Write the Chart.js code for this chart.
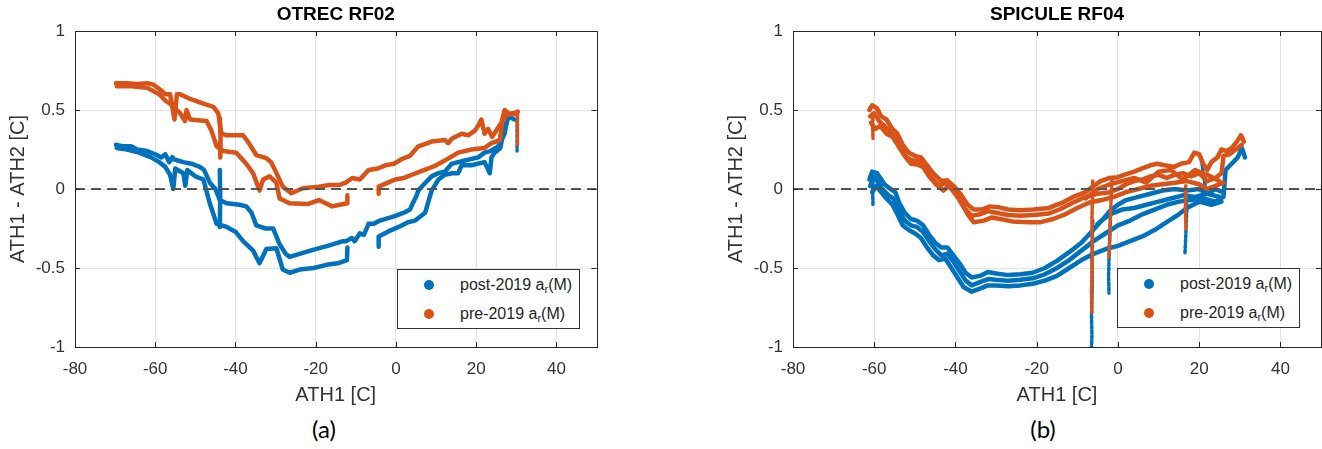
<!DOCTYPE html>
<html>
<head>
<meta charset="utf-8">
<script src="https://cdn.jsdelivr.net/npm/chart.js@4.4.1/dist/chart.umd.min.js"></script>
<style>
  body { margin: 0; background: #fff; }
  #wrap { position: relative; width: 1322px; height: 449px; overflow: hidden; font-family: "Liberation Sans", Arial, sans-serif; }
  .panel { position: absolute; top: 0; height: 410px; }
  .legend { position: absolute; width: 181px; height: 58px; border: 1px solid #333; background: #fff; color: #262626; font-size: 16px; }
  .legend .row { position: absolute; left: 0; height: 20px; line-height: 20px; }
  .legend .dot { position: absolute; left: 26px; top: 5px; width: 10px; height: 10px; border-radius: 50%; }
  .legend .txt { position: absolute; left: 62px; top: 0; white-space: nowrap; }
  .legend sub { font-size: 11px; vertical-align: -3px; line-height: 0; }
  .cap { position: absolute; top: 414px; font-family: Lato, "Open Sans", sans-serif; font-size: 24px; color: #000; transform: translateX(-50%); }
</style>
</head>
<body>
<div id="wrap">
  <div class="panel" style="left:0;width:600px"><canvas id="otrec"></canvas></div>
  <div class="panel" style="left:718px;width:604px"><canvas id="spicule"></canvas></div>

  <div class="legend" style="left:397px;top:269px">
    <div class="row" style="top:5px"><span class="dot" style="background:#0072BD"></span><span class="txt">post-2019 a<sub>r</sub>(M)</span></div>
    <div class="row" style="top:34px"><span class="dot" style="background:#D95319"></span><span class="txt">pre-2019 a<sub>r</sub>(M)</span></div>
  </div>
  <div class="legend" style="left:1117px;top:268px">
    <div class="row" style="top:5px"><span class="dot" style="background:#0072BD"></span><span class="txt">post-2019 a<sub>r</sub>(M)</span></div>
    <div class="row" style="top:34px"><span class="dot" style="background:#D95319"></span><span class="txt">pre-2019 a<sub>r</sub>(M)</span></div>
  </div>

  <div class="cap" style="left:324px">(a)</div>
  <div class="cap" style="left:1043px">(b)</div>
</div>

<script>
// axis ticks
var xTicks = [-80, -60, -40, -20, 0, 20, 40];
var yTicks = [-1, -0.5, 0, 0.5, 1];

var postColor = '#0072BD';
var preColor = '#D95319';

// ---- OTREC RF02 (ATH1, ATH1-ATH2) ----
var otrecPostUpper = [[-69.8,0.28],[-68,0.27],[-66,0.27],[-64.5,0.25],[-62,0.24],[-60,0.22],[-58.5,0.2],[-57.5,0.22],[-56.5,0.17],[-55.8,0.2],[-55.6,0.19],[-53,0.17],[-51,0.16],[-48.9,0.14],[-47.8,0.12],[-46.4,0.04],[-45,0.0],[-43.9,-0.07],[-42.2,-0.09],[-39,-0.1],[-37.3,-0.11],[-36,-0.15],[-34.8,-0.23],[-32.5,-0.25],[-30.6,-0.25],[-29.8,-0.3],[-29,-0.35],[-27.5,-0.41],[-26.5,-0.43],[-24,-0.41],[-20.7,-0.385],[-17,-0.36],[-13.2,-0.33],[-12.4,-0.33],[-11,-0.31],[-10.3,-0.33],[-9,-0.28],[-8,-0.29],[-6.8,-0.22],[-5.5,-0.22],[-4,-0.2],[-0.7,-0.175],[2,-0.15],[3.5,-0.13],[4.2,-0.09],[5,-0.05],[5.6,-0.01],[7,0.03],[8.9,0.08],[10.5,0.1],[12.2,0.11],[13.9,0.16],[15.5,0.17],[17.2,0.18],[20.5,0.2],[22.1,0.23],[23.5,0.24],[25.5,0.27],[27.1,0.35],[27.9,0.46],[29.6,0.44]];
var otrecPostLower = [[-69.6,0.26],[-67,0.25],[-64,0.23],[-61,0.2],[-59,0.17],[-57.5,0.14],[-56.3,0.09],[-55.5,0.0],[-55,0.13],[-53,0.1],[-52.5,0.02],[-52,0.12],[-50,0.08],[-48,0.06],[-46.4,-0.09],[-44.7,-0.22],[-42.2,-0.24],[-40,-0.27],[-38.1,-0.33],[-35.6,-0.39],[-34,-0.47],[-32.3,-0.38],[-29.8,-0.375],[-28.2,-0.51],[-26.5,-0.53],[-24,-0.51],[-20.5,-0.5],[-17.3,-0.48],[-14.5,-0.47],[-12.2,-0.45],[-12.1,-0.37]];
var otrecPostLower2 = [[-4.3,-0.365],[-4.3,-0.3],[-2,-0.27],[0.7,-0.24],[3,-0.21],[4.8,-0.2],[7.3,-0.15],[8.2,-0.07],[8.9,-0.01],[10.6,0.06],[12.2,0.09],[14,0.1],[15.5,0.1],[16.4,0.15],[18.8,0.15],[22.1,0.17],[23.4,0.1],[23.8,0.2],[24.6,0.23],[26,0.26],[27,0.38],[28,0.45]];
var otrecPostSpike = [[-43.9,0.12],[-43.8,-0.05],[-43.9,-0.24]];
var otrecPostTail = [[30.2,0.44],[30.2,0.24]];

var otrecPreUpper = [[-69.8,0.67],[-67,0.67],[-64.5,0.665],[-62,0.67],[-60.4,0.66],[-58.8,0.63],[-57.5,0.6],[-56.3,0.6],[-55.2,0.44],[-54.6,0.6],[-53.8,0.6],[-51.3,0.57],[-48,0.54],[-45.5,0.52],[-44.3,0.48],[-43.5,0.35],[-42.2,0.34],[-38.1,0.34],[-36.9,0.3],[-34.8,0.215],[-32.3,0.195],[-31.1,0.17],[-29.4,0.08],[-28.2,0.015],[-26.1,-0.027],[-23.2,0.005],[-19.2,0.015],[-16.6,0.025],[-14.2,0.025],[-12.5,0.04],[-10.9,0.07],[-9,0.06],[-6.8,0.12],[-4.5,0.13],[-2.6,0.15],[-0.5,0.16],[1.5,0.19],[3.5,0.21],[5.6,0.27],[8.9,0.3],[12.2,0.31],[13,0.29],[14,0.32],[16.4,0.35],[18,0.34],[19.7,0.37],[20.5,0.4],[21.3,0.44],[22.1,0.35],[23,0.38],[24,0.33],[25.5,0.39],[26.3,0.42],[27.1,0.5],[28.5,0.47],[30.4,0.49]];
var otrecPreLower = [[-69.6,0.65],[-66,0.65],[-62,0.64],[-59,0.6],[-57.5,0.56],[-56.3,0.54],[-53.8,0.48],[-52.6,0.43],[-52.2,0.5],[-51.3,0.44],[-47.2,0.43],[-46,0.37],[-44.7,0.27],[-43,0.24],[-39.8,0.23],[-37.3,0.16],[-35.6,0.1],[-34,-0.01],[-33.1,0.06],[-31.5,0.08],[-29.8,0.04],[-29,-0.06],[-26.5,-0.09],[-22,-0.095],[-19.2,-0.07],[-15.9,-0.11],[-14,-0.1],[-12.1,-0.09],[-12.1,-0.04]];
var otrecPreLower2 = [[-4.3,-0.03],[-4.3,0.015],[-2,0.04],[-0.2,0.06],[2,0.07],[4,0.09],[6,0.11],[8.1,0.13],[10,0.15],[12.2,0.18],[15.5,0.23],[18.8,0.25],[22.1,0.26],[23.8,0.29],[25.9,0.31],[26.5,0.42],[27.5,0.47],[29,0.48],[30.2,0.47]];
var otrecPreSpike = [[-43.9,0.45],[-43.7,0.3],[-43.8,0.2]];
var otrecPreTail = [[30.3,0.48],[30.3,0.28]];

// ---- SPICULE RF04 ----
var spiculePostA = [[-61.2,0.06],[-60.5,0.11],[-59.3,0.1],[-58.5,0.07],[-57.5,0.03],[-56,0.0],[-54.8,-0.02],[-53.8,-0.09],[-52.5,-0.15],[-51,-0.19],[-49.5,-0.2],[-48,-0.23],[-46.5,-0.29],[-45,-0.34],[-43.5,-0.37],[-42,-0.37],[-40.5,-0.42],[-39,-0.47],[-37.5,-0.53],[-36,-0.56],[-34,-0.55],[-32,-0.525],[-30,-0.535],[-27,-0.545],[-24,-0.54],[-21,-0.53],[-18,-0.5],[-15,-0.455],[-12,-0.4],[-9,-0.34],[-6.5,-0.27],[-4,-0.2],[-2,-0.14],[0,-0.1],[2,-0.07],[5,-0.05],[8,-0.03],[11,-0.01],[14,0.0],[17,-0.01],[20,0.0],[22,-0.03],[24,0.0],[25.8,-0.02]];
var spiculePostB = [[-61,0.02],[-60,0.08],[-59,0.04],[-58,0.0],[-56.5,-0.04],[-55.3,-0.06],[-54,-0.13],[-52.5,-0.2],[-51,-0.23],[-49.5,-0.24],[-48,-0.27],[-46.5,-0.33],[-45,-0.38],[-43.5,-0.42],[-42,-0.41],[-40.5,-0.46],[-39,-0.52],[-37.5,-0.58],[-36,-0.61],[-34,-0.59],[-32,-0.57],[-30,-0.575],[-27,-0.58],[-24,-0.575],[-21,-0.565],[-18,-0.54],[-15,-0.5],[-12,-0.45],[-9,-0.39],[-6,-0.33],[-3,-0.28],[0,-0.23],[3,-0.2],[6,-0.16],[9,-0.13],[12,-0.1],[15,-0.08],[18,-0.07],[21,-0.06],[24,-0.08],[26,-0.05],[26.5,0.12],[28,0.16],[29.5,0.2],[30.5,0.26],[31.3,0.2]];
var spiculePostC = [[-60.5,-0.02],[-59.5,0.02],[-58.3,-0.02],[-57,-0.06],[-55.5,-0.1],[-54.3,-0.16],[-53,-0.23],[-51.5,-0.26],[-50,-0.28],[-48.5,-0.31],[-47,-0.37],[-45.5,-0.42],[-44,-0.45],[-42.5,-0.44],[-41,-0.5],[-39.5,-0.56],[-38,-0.62],[-36,-0.65],[-34,-0.63],[-32,-0.61],[-30,-0.61],[-27,-0.615],[-24,-0.61],[-21,-0.6],[-18,-0.58],[-15,-0.55],[-12,-0.5],[-9,-0.45],[-6,-0.41],[-3,-0.38],[0,-0.36],[3,-0.33],[6,-0.3],[9,-0.26],[12,-0.21],[15,-0.16],[17,-0.12],[20,-0.08],[23,-0.1],[25.5,-0.08]];
var spiculePostD = [[-5,-0.22],[-2,-0.16],[1,-0.13],[4,-0.12],[7,-0.1],[10,-0.08],[13,-0.06],[16,-0.04],[19,-0.05],[22,-0.03],[25,-0.05]];
var spiculePostSpikes = [
  [[-60.3,0.08],[-60.4,-0.02],[-60.3,-0.1]],
  [[-6.2,-0.2],[-6.4,-0.45],[-6.3,-0.6],[-6.5,-0.8],[-6.4,-0.92],[-6.5,-1.0]],
  [[-1.8,-0.15],[-2.1,-0.35],[-2.3,-0.55],[-2.2,-0.66]],
  [[17,-0.1],[16.7,-0.3],[16.5,-0.41]],
  [[20.5,0.2],[21,0.1],[21.5,0.02]]
];

var spiculePreA = [[-61.2,0.5],[-60.5,0.53],[-59.3,0.51],[-58.3,0.46],[-57,0.44],[-55.5,0.38],[-54.3,0.35],[-53,0.28],[-51.5,0.23],[-50,0.21],[-48.5,0.2],[-47,0.15],[-45.5,0.1],[-43.5,0.05],[-42,0.055],[-40.5,0.02],[-38.8,-0.03],[-37,-0.1],[-35.5,-0.13],[-33.5,-0.13],[-31.5,-0.11],[-29.5,-0.115],[-27,-0.13],[-24,-0.135],[-20.7,-0.13],[-17,-0.12],[-14,-0.09],[-11,-0.05],[-8,-0.02],[-6.5,0.01],[-4.3,0.05],[-2,0.07],[0,0.075],[1.5,0.09],[4,0.11],[6,0.13],[8,0.15],[9.7,0.16],[11.5,0.15],[13.8,0.14],[15.5,0.16],[17.5,0.17],[18.8,0.23],[20,0.22],[21,0.16],[22,0.12],[23,0.17],[24.5,0.2],[25.5,0.25],[26.8,0.24],[28,0.26],[29.3,0.3],[30.3,0.34],[31,0.3]];
var spiculePreB = [[-61,0.46],[-60,0.48],[-58.8,0.43],[-57.5,0.4],[-56,0.36],[-54.8,0.32],[-53.5,0.26],[-52,0.2],[-50.5,0.18],[-49,0.18],[-47.5,0.13],[-45.8,0.07],[-44,0.02],[-42.5,0.04],[-41,0.0],[-39.5,-0.05],[-37.8,-0.12],[-36,-0.17],[-34,-0.16],[-32,-0.14],[-30,-0.15],[-27,-0.165],[-24,-0.17],[-20.7,-0.165],[-17,-0.155],[-14,-0.125],[-11,-0.085],[-8,-0.05],[-5,-0.03],[-2,-0.02],[0,0.0],[2,0.03],[4,0.05],[6,0.06],[8,0.08],[10,0.09],[12,0.07],[14,0.09],[16,0.1],[18,0.08],[20,0.1],[22,0.05],[24,0.07],[25.5,0.1],[26,0.21],[27.5,0.22],[29,0.25],[30.5,0.28]];
var spiculePreC = [[-60.8,0.42],[-59.8,0.38],[-58.5,0.4],[-57,0.35],[-55.5,0.33],[-54,0.27],[-52.5,0.21],[-51,0.16],[-49.5,0.155],[-48,0.14],[-46.5,0.08],[-44.8,0.03],[-43,-0.01],[-41.5,0.02],[-40,-0.02],[-38.5,-0.09],[-37,-0.16],[-35.5,-0.21],[-33,-0.2],[-31,-0.18],[-29,-0.19],[-26,-0.205],[-22,-0.21],[-19,-0.21],[-16,-0.19],[-13,-0.16],[-10,-0.12],[-7,-0.085],[-4,-0.07],[-1,-0.05],[2,-0.02],[5,0.0],[8,0.02],[11,0.03],[14,0.04],[17,0.05],[20,0.03],[22,0.0],[24,0.02],[26,0.04]];
var spiculePreD = [[-8,-0.06],[-5,0.0],[-2,0.03],[1,0.05],[4,0.07],[7,0.04],[10,0.11],[13,0.12],[16,0.06],[19,0.12],[22,0.09],[25,0.05]];
var spiculePreSpikes = [
  [[-60.3,0.48],[-60.4,0.4],[-60.3,0.32]],
  [[-6.2,0.05],[-6.4,-0.2],[-6.3,-0.45],[-6.5,-0.65],[-6.4,-0.78]],
  [[-1.5,0.06],[-1.8,-0.15],[-2,-0.32],[-2.2,-0.43]],
  [[16.7,0.02],[16.6,-0.12],[16.8,-0.26]]
];

var zeroLine = [[-80, 0], [50, 0]];

function trace(pairs, color, order, dashed) {
  return {
    data: pairs.map(function (p) { return {x: p[0], y: p[1]}; }),
    borderColor: color,
    backgroundColor: color,
    borderWidth: dashed ? 3.5 : 4.5,
    borderDash: dashed ? [3, 2] : [],
    borderCapStyle: 'round',
    borderJoinStyle: 'round',
    pointRadius: 0,
    tension: 0,
    order: order
  };
}

// MATLAB-like box with inward ticks
var boxPlugin = {
  id: 'box',
  afterDatasetsDraw: function (chart) {
    var a = chart.chartArea, ctx = chart.ctx;
    var xs = chart.scales.x, ys = chart.scales.y;
    ctx.save();
    ctx.strokeStyle = '#262626';
    ctx.lineWidth = 1;
    ctx.beginPath();
    xTicks.forEach(function (v) {
      var px = Math.round(xs.getPixelForValue(v)) + 0.5;
      ctx.moveTo(px, a.bottom); ctx.lineTo(px, a.bottom - 5);
      ctx.moveTo(px, a.top); ctx.lineTo(px, a.top + 5);
    });
    yTicks.forEach(function (v) {
      var py = Math.round(ys.getPixelForValue(v)) + 0.5;
      ctx.moveTo(a.left, py); ctx.lineTo(a.left + 5, py);
      ctx.moveTo(a.right, py); ctx.lineTo(a.right - 5, py);
    });
    ctx.stroke();
    ctx.strokeRect(Math.round(a.left) + 0.5, Math.round(a.top) + 0.5, Math.round(a.right - a.left), Math.round(a.bottom - a.top));
    ctx.restore();
  }
};

function makeChart(id, title, datasets, padRight) {
  return new Chart(id, {
    type: 'line',
    data: { datasets: datasets },
    plugins: [boxPlugin],
    options: {
      responsive: true,
      maintainAspectRatio: false,
      animation: false,
      layout: { padding: { left: 0, right: padRight, top: 0, bottom: 0 } },
      plugins: {
        legend: { display: false },
        tooltip: { enabled: false },
        title: {
          display: true,
          text: title,
          fullSize: false,
          color: '#000',
          font: { family: 'Liberation Sans', size: 19, weight: 'bold' },
          padding: { top: 3.6, bottom: 4.6 }
        }
      },
      scales: {
        x: {
          type: 'linear',
          min: -80, max: 50,
          afterFit: function (s) { s.height = 63; },
          afterBuildTicks: function (s) { s.ticks = xTicks.map(function (v) { return {value: v}; }); },
          grid: { color: '#e3e3e3', drawTicks: false },
          border: { display: false },
          ticks: { color: '#333', padding: 12, maxRotation: 0, font: { family: 'Liberation Sans', size: 17 },
                   callback: function (v) { return String(v); } },
          title: { display: true, text: 'ATH1 [C]', color: '#333', font: { family: 'Liberation Sans', size: 20 }, padding: { top: 0, bottom: 3 } }
        },
        y: {
          type: 'linear',
          min: -1, max: 1,
          afterFit: function (s) { s.width = 75; },
          afterBuildTicks: function (s) { s.ticks = yTicks.map(function (v) { return {value: v}; }); },
          grid: { color: '#e3e3e3', drawTicks: false },
          border: { display: false },
          ticks: { color: '#333', padding: 10, font: { family: 'Liberation Sans', size: 17 },
                   callback: function (v) { return String(v); } },
          title: { display: true, text: 'ATH1 - ATH2 [C]', color: '#333', font: { family: 'Liberation Sans', size: 20 }, padding: { top: 6, bottom: 0 } }
        }
      }
    }
  });
}

var otrecSets = [
  Object.assign(trace(zeroLine, '#555', 0), { borderWidth: 2, borderDash: [10, 6], borderCapStyle: 'butt' }),
  trace(otrecPreUpper, preColor, 1),
  trace(otrecPreLower, preColor, 1),
  trace(otrecPreLower2, preColor, 1),
  trace(otrecPreSpike, preColor, 1),
  trace(otrecPreTail, preColor, 1, true),
  trace(otrecPostUpper, postColor, 2),
  trace(otrecPostLower, postColor, 2),
  trace(otrecPostLower2, postColor, 2),
  trace(otrecPostSpike, postColor, 2),
  trace(otrecPostTail, postColor, 2, true)
];

var spiculeSets = [
  Object.assign(trace(zeroLine, '#555', 0), { borderWidth: 2, borderDash: [10, 6], borderCapStyle: 'butt' }),
  trace(spiculePreA, preColor, 1),
  trace(spiculePreB, preColor, 1),
  trace(spiculePreC, preColor, 1),
  trace(spiculePreD, preColor, 1)
].concat(spiculePreSpikes.map(function (s) { return trace(s, preColor, 1, true); }))
 .concat([
  trace(spiculePostA, postColor, 2),
  trace(spiculePostB, postColor, 2),
  trace(spiculePostC, postColor, 2),
  trace(spiculePostD, postColor, 2)
]).concat(spiculePostSpikes.map(function (s) { return trace(s, postColor, 3, true); }));

makeChart('otrec', 'OTREC RF02', otrecSets, 3.5);
makeChart('spicule', 'SPICULE RF04', spiculeSets, 1);
</script>
</body>
</html>
